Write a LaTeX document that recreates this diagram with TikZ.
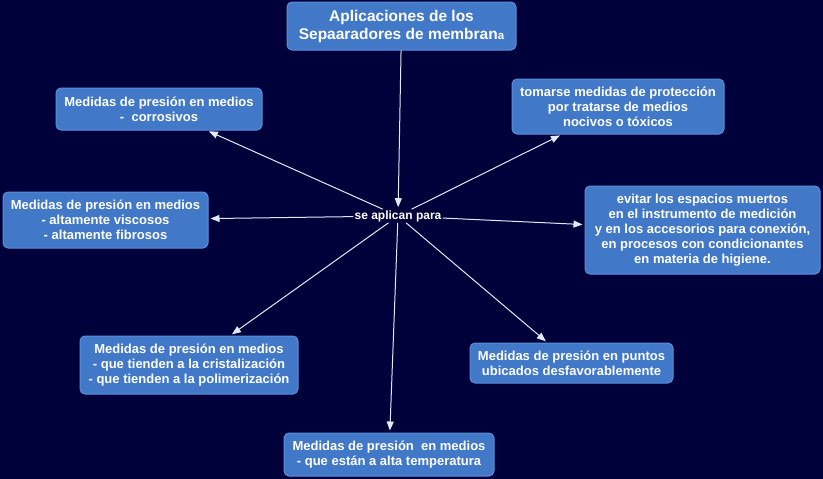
\documentclass[tikz,border=0pt]{standalone}
\usepackage{fontspec}
\setmainfont{Liberation Sans}
\usetikzlibrary{arrows.meta}
\definecolor{bg}{HTML}{00003A}
\definecolor{boxfill}{HTML}{4178C8}
\definecolor{boxedge}{HTML}{5B8FDB}
\definecolor{lnk}{HTML}{E2EAF8}
\tikzset{
  box/.style={draw=boxedge, line width=1pt, fill=boxfill, rounded corners=5pt,
    text=white, font=\bfseries\fontsize{13}{15}\selectfont, align=center,
    inner sep=0pt, anchor=center},
  conn/.style={draw=lnk, line width=1pt, -{Triangle[length=9pt,width=7pt]}, shorten >=2pt},
}
\begin{document}
\begin{tikzpicture}[x=1pt,y=-1pt]
\fill[bg] (0,0) rectangle (823,479);
\useasboundingbox (0,0) rectangle (823,479);
\node[box, minimum width=229pt, minimum height=48pt, font=\bfseries\fontsize{15.5}{18}\selectfont] (t) at (401.5,26) {Aplicaciones de los\\Sepaaradores de membran{\fontsize{11.5}{12}\selectfont a}};
\node[text=white, font=\bfseries\fontsize{12}{14}\selectfont, inner sep=1pt] (c) at (398,216) {se aplican para};
\node[box, minimum width=206pt, minimum height=42pt] (b1) at (159,109) {Medidas de presión en medios\\-\ \ corrosivos};
\node[box, minimum width=212pt, minimum height=55pt] (b2) at (618,106.5) {tomarse medidas de protección\\por tratarse de medios\\nocivos o tóxicos};
\node[box, minimum width=235pt, minimum height=88pt] (b3) at (702.5,230) {evitar los espacios muertos\\en el instrumento de medición\\y en los accesorios para conexión,\\en procesos con condicionantes\\en materia de higiene.};
\node[box, minimum width=205pt, minimum height=56pt] (b4) at (105.5,220) {Medidas de presión en medios\\- altamente viscosos\\- altamente fibrosos};
\node[box, minimum width=218pt, minimum height=58pt] (b5) at (189,365) {Medidas de presión en medios\\- que tienden a la cristalización\\- que tienden a la polimerización};
\node[box, minimum width=203pt, minimum height=40pt] (b6) at (571.5,363) {Medidas de presión en puntos\\ubicados desfavorablemente};
\node[box, minimum width=210pt, minimum height=43pt] (b7) at (389,454.5) {Medidas de presión\ \ en medios\\- que están a alta temperatura};
\draw[conn] (t) -- (c);
\foreach \b in {b1,b2,b3,b4,b5,b6,b7} \draw[conn] (c) -- (\b);
\end{tikzpicture}
\end{document}
